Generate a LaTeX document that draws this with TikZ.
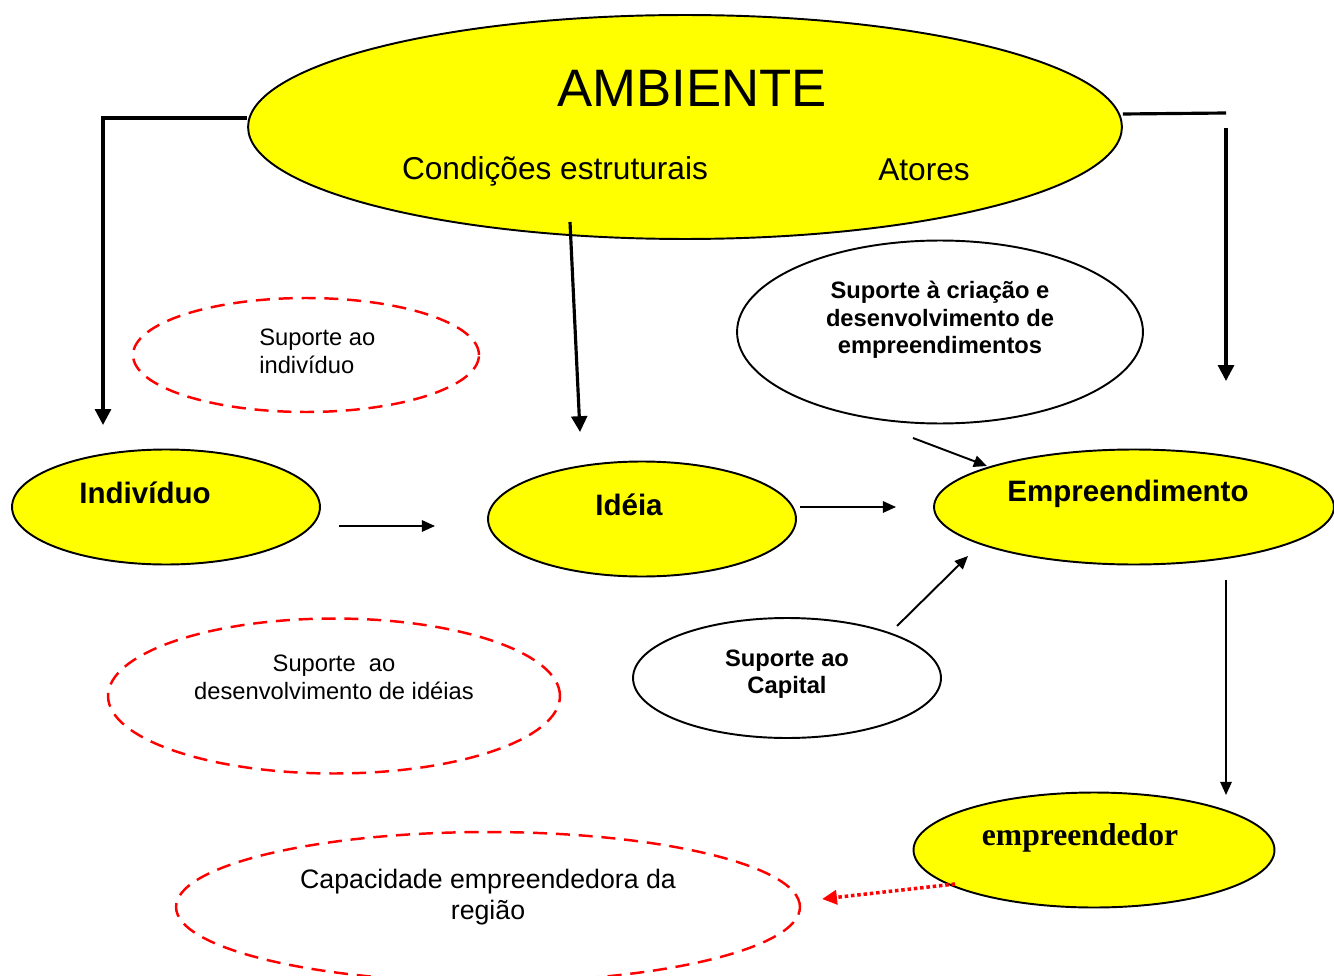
\documentclass[tikz,border=0pt]{standalone}
\usepackage{fontspec}
\setmainfont{Liberation Sans}
\newfontfamily\timesf{Liberation Serif}
\usetikzlibrary{shapes.geometric,arrows.meta}
\definecolor{ryel}{RGB}{255,255,0}
\definecolor{rred}{RGB}{255,0,0}
\begin{document}
\begin{tikzpicture}[x=0.02cm,y=-0.02cm,
  ell/.style={ellipse, draw=black, line width=1.1pt, inner sep=0pt},
  yel/.style={ell, fill=ryel},
  wht/.style={ell, fill=white},
  dashell/.style={ellipse, draw=rred, dash pattern=on 8pt off 5pt, line width=1.4pt, inner sep=0pt},
  thickline/.style={line width=1.8pt},
  thickarrow/.style={line width=1.8pt, -{Triangle[length=9pt,width=9pt]}},
  thinarrow/.style={line width=1.1pt, -{Triangle[length=7.5pt,width=6.5pt]}},
  dotarrow/.style={line width=2pt, draw=rred, dash pattern=on 2pt off 1.6pt, -{Triangle[length=8.5pt,width=8pt,fill=rred]}},
  txt/.style={inner sep=0pt, align=center},
  small/.style={font=\fontsize{13.5}{15.9}\selectfont},
  smallb/.style={font=\fontsize{13.5}{15.6}\selectfont\bfseries},
  big/.style={font=\fontsize{16.8}{19}\selectfont\bfseries},
]
\useasboundingbox (0,0) rectangle (1334,976);
\clip (0,0) rectangle (1334,976);

% ellipses
\node[yel, minimum width=17.48cm, minimum height=4.48cm] (amb) at (685,127) {};
\node[dashell, minimum width=6.92cm, minimum height=2.28cm] (supind) at (306,355) {};
\node[wht, minimum width=8.12cm, minimum height=3.66cm] (supcri) at (940,332) {};
\node[yel, minimum width=6.16cm, minimum height=2.3cm] (ind) at (166,507) {};
\node[yel, minimum width=6.16cm, minimum height=2.3cm] (ideia) at (642,519) {};
\node[yel, minimum width=8.0cm, minimum height=2.3cm] (emp) at (1134,507) {};
\node[wht, minimum width=6.16cm, minimum height=2.4cm] (supcap) at (787,678) {};
\node[dashell, minimum width=9.04cm, minimum height=3.1cm] (supdes) at (334,696) {};
\node[yel, minimum width=7.22cm, minimum height=2.3cm] (empr) at (1094,850) {};
\node[dashell, minimum width=12.48cm, minimum height=3.0cm] (cap) at (488,907) {};

% texts
\node[txt, font=\fontsize{30}{36}\selectfont] (tamb) at (692,88) {AMBIENTE};
\node[txt, font=\fontsize{18}{22}\selectfont] (tcond) at (555,171) {Condições estruturais};
\node[txt, font=\fontsize{18}{22}\selectfont] (tat) at (924,170) {Atores};
\node[txt, small, align=left, anchor=west] (tsupind) at (259,351) {Suporte ao\\indivíduo};
\node[txt, smallb] (tsupcri) at (940,320) {Suporte à criação e\\desenvolvimento de\\empreendimentos};
\node[txt, big] (tind) at (145,493) {Indivíduo};
\node[txt, big] (tideia) at (629,505) {Idéia};
\node[txt, big] (temp) at (1128,494) {Empreendimento};
\node[txt, smallb] (tsupcap) at (787,674) {Suporte ao\\Capital};
\node[txt, small] (tsupdes) at (334,677) {Suporte\ \ ao\\desenvolvimento de idéias};
\node[txt, font=\fontsize{18}{21}\selectfont\timesf\bfseries] (tempr) at (1080,838) {empreendedor};
\node[txt, font=\fontsize{15.2}{17.2}\selectfont] (tcap) at (488,897) {Capacidade empreendedora da\\região};

% connector end points
\coordinate (lt) at (103,425);
\coordinate (rc) at (1226,113);
\coordinate (rs) at (1226,128);
\coordinate (rt) at (1226,381);
\coordinate (ms) at (570,222);
\coordinate (mt) at (580,432);
\coordinate (a1s) at (339,526);
\coordinate (a1t) at (435,526);
\coordinate (a2s) at (800,507);
\coordinate (a2t) at (896,507);
\coordinate (a3s) at (913,438);
\coordinate (a3t) at (987,466);
\coordinate (a4s) at (897,626);
\coordinate (a4t) at (968,556);
\coordinate (a5s) at (1226,580);
\coordinate (a5t) at (1226,795);
\coordinate (a6s) at (955,884);
\coordinate (a6t) at (822,899);

% connectors
\draw[thickarrow] ([yshift=0.18cm]amb.west) -| (lt);
\draw[thickline] ([yshift=0.26cm]amb.east) -- (rc);
\draw[thickarrow] (rs) -- (rt);
\draw[thickarrow] (ms) -- (mt);
\draw[thinarrow] (a1s) -- (a1t);
\draw[thinarrow] (a2s) -- (a2t);
\draw[thinarrow] (a3s) -- (a3t);
\draw[thinarrow] (a4s) -- (a4t);
\draw[thinarrow] (a5s) -- (a5t);
\draw[dotarrow] (a6s) -- (a6t);
\end{tikzpicture}
\end{document}
